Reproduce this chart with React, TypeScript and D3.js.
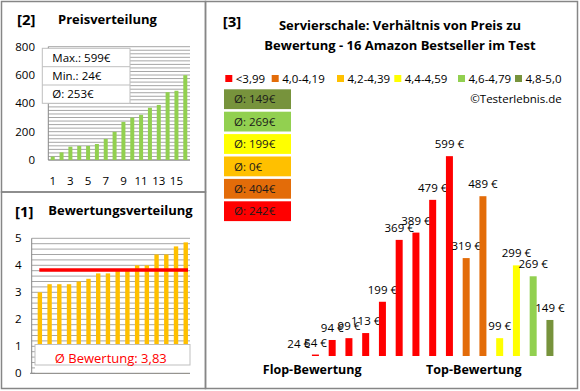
import React from 'react';
import * as d3 from 'd3';

// Produkte in Reihenfolge der Bewertung (Flop -> Top)
const prices = [24, 54, 94, 99, 113, 199, 369, 389, 479, 599, 319, 489, 99, 299, 269, 149];
const ratings = [3.0, 3.3, 3.3, 3.3, 3.4, 3.5, 3.7, 3.7, 3.85, 3.85, 4.0, 4.0, 4.4, 4.4, 4.7, 4.85];

const ratingClasses = ['<3,99', '4,0-4,19', '4,2-4,39', '4,4-4,59', '4,6-4,79', '4,8-5,0'];
const classColors = ['#FF0000', '#E36C09', '#FFC000', '#FFFF00', '#92D050', '#77933C'];
const classBreaks = [4.0, 4.2, 4.4, 4.6, 4.8];

const priceTicks = [0, 200, 400, 600, 800];
const ratingTicks = [0, 1, 2, 3, 4, 5];

const FONT = "'Open Sans', sans-serif";
const BORDER = '#868686';
const GRID = '#a6a6a6';

const App: React.FC = () => {
    const sortedPrices = [...prices].sort((a, b) => a - b);
    const maxP = d3.max(prices) as number;
    const minP = d3.min(prices) as number;
    const avgP = Math.round(d3.mean(prices) as number);
    const avgR = d3.mean(ratings) as number;

    const classOf = d3.scaleThreshold<number, number>().domain(classBreaks).range([0, 1, 2, 3, 4, 5]);
    const classAvg = ratingClasses.map((_, ci) => {
        const v = prices.filter((_, i) => classOf(ratings[i]) === ci);
        return v.length ? Math.round(d3.mean(v) as number) : 0;
    });

    // [2] Preisverteilung
    const x2 = d3.scaleBand<number>().domain(d3.range(16)).range([48.3, 189.7]);
    const y2 = d3.scaleLinear().domain([0, 800]).range([160, 46.7]);
    const grid2 = d3.range(0, 801, 25);

    // [1] Bewertungsverteilung
    const x1 = d3.scaleBand<number>().domain(d3.range(16)).range([35, 190.6]);
    const y1 = d3.scaleLinear().domain([0, 5]).range([373.3, 238.3]);
    const grid1 = d3.range(0, 5.01, 0.2);

    // [3] Preis zu Bewertung
    const x3 = d3.scaleBand<number>().domain(d3.range(16)).range([290.3, 558.3]);
    const y3 = d3.scaleLinear().domain([50, 650]).range([356, 137.6]).clamp(true);

    const legendX = [225.3, 271.7, 337, 394.3, 458, 515];
    const boxOrder = [5, 4, 3, 2, 1, 0];

    return (
        <svg width={580} height={391} style={{ position: 'absolute', left: 0, top: 0, fontFamily: FONT }}>
            <rect x={0} y={0} width={580} height={391} fill="#fff" />

            {/* Rahmen */}
            <rect x={1.5} y={1.5} width={204} height={190.5} fill="none" stroke={BORDER} strokeWidth={1.5} />
            <rect x={1.5} y={192} width={204} height={196.5} fill="none" stroke={BORDER} strokeWidth={1.5} />
            <rect x={205.5} y={1.5} width={372} height={387} fill="none" stroke={BORDER} strokeWidth={1.5} />

            {/* ---------- [2] ---------- */}
            <text x={17} y={25} fontSize={15} fontWeight="bold">[2]</text>
            <text x={58} y={24} fontSize={13} fontWeight="bold">Preisverteilung</text>
            {grid2.map(g => (
                <line key={g} x1={48.3} x2={190} y1={y2(g)} y2={y2(g)} stroke={GRID} strokeWidth={1} />
            ))}
            <line x1={48.3} x2={48.3} y1={46.7} y2={160} stroke={BORDER} />
            <line x1={48.3} x2={190} y1={160} y2={160} stroke={BORDER} />
            {priceTicks.map(t => (
                <text key={t} x={35} y={y2(t) + 4} fontSize={11.5} textAnchor="end">{t}</text>
            ))}
            {sortedPrices.map((p, i) => (
                <rect key={i} x={x2(i)! + x2.bandwidth() / 2 - 2} y={y2(p)} width={4} height={160 - y2(p)} fill="#92D050" />
            ))}
            {d3.range(0, 16, 2).map(i => (
                <text key={i} x={x2(i)! + x2.bandwidth() / 2} y={185} fontSize={11.5} textAnchor="middle">{i + 1}</text>
            ))}
            <g>
                <rect x={42.3} y={48.3} width={87.7} height={55} fill="#fff" stroke="#bfbfbf" />
                <line x1={42.3} x2={130} y1={66.7} y2={66.7} stroke="#bfbfbf" />
                <line x1={42.3} x2={130} y1={85} y2={85} stroke="#bfbfbf" />
                <text x={52.3} y={61.5} fontSize={11.5}>{`Max.: ${maxP}€`}</text>
                <text x={52.3} y={80} fontSize={11.5}>{`Min.: ${minP}€`}</text>
                <text x={52.3} y={98.3} fontSize={11.5}>{`Ø: ${avgP}€`}</text>
            </g>

            {/* ---------- [1] ---------- */}
            <text x={15} y={216.5} fontSize={15} fontWeight="bold">[1]</text>
            <text x={48.3} y={215} fontSize={13} fontWeight="bold">Bewertungsverteilung</text>
            {grid1.map(g => (
                <line key={g} x1={31.7} x2={190} y1={y1(g)} y2={y1(g)} stroke={GRID} strokeWidth={1} />
            ))}
            <line x1={31.7} x2={31.7} y1={238.3} y2={373.3} stroke={BORDER} />
            {ratingTicks.map(t => (
                <text key={t} x={21.5} y={y1(t) + 4} fontSize={11.5} textAnchor="end">{t}</text>
            ))}
            {ratings.map((r, i) => (
                <rect key={i} x={x1(i)! + x1.bandwidth() / 2 - 2.2} y={y1(r)} width={4.4} height={373.3 - y1(r)} fill="#FFC000" />
            ))}
            <line x1={39.3} x2={188} y1={y1(avgR)} y2={y1(avgR)} stroke="#FF0000" strokeWidth={3.5} />
            <rect x={35} y={344.5} width={155} height={28.8} fill="#fff" />
            <rect x={35} y={344.5} width={155} height={20.5} fill="#fff" stroke="#bfbfbf" />
            <line x1={30} x2={190} y1={373.3} y2={373.3} stroke={BORDER} />
            <text x={110.8} y={362.5} fontSize={13} fill="#FF0000" textAnchor="middle">
                {`Ø Bewertung: ${avgR.toFixed(2).replace('.', ',')}`}
            </text>

            {/* ---------- [3] ---------- */}
            <text x={222.7} y={26.7} fontSize={15} fontWeight="bold">[3]</text>
            <text x={400} y={30} fontSize={13} fontWeight="bold" textAnchor="middle">Servierschale: Verhältnis von Preis zu</text>
            <text x={400} y={50} fontSize={13} fontWeight="bold" textAnchor="middle">Bewertung - 16 Amazon Bestseller im Test</text>

            {ratingClasses.map((c, i) => (
                <g key={c}>
                    <rect x={legendX[i]} y={75} width={7} height={7} fill={classColors[i]} />
                    <text x={legendX[i] + 10.5} y={82.5} fontSize={11.5}>{c}</text>
                </g>
            ))}
            <text x={561.7} y={102.5} fontSize={11.5} textAnchor="end">©Testerlebnis.de</text>

            {boxOrder.map((ci, k) => (
                <g key={ci}>
                    <rect x={224} y={89.3 + k * 22.4} width={67} height={19.8} fill={classColors[ci]} />
                    <text x={234} y={103.3 + k * 22.4} fontSize={11.5} fill="#1a1a1a">{`Ø: ${classAvg[ci]}€`}</text>
                </g>
            ))}

            {prices.map((p, i) => {
                const cx = x3(i)! + x3.bandwidth() / 2;
                const top = y3(p);
                return (
                    <g key={i}>
                        <rect x={cx - 3.5} y={top} width={7} height={356 - top} fill={classColors[classOf(ratings[i])]} />
                        <text x={cx} y={top - 8} fontSize={11.5} textAnchor="middle">{`${p} €`}</text>
                    </g>
                );
            })}
            <text x={312.2} y={374} fontSize={12.5} fontWeight="bold" textAnchor="middle">Flop-Bewertung</text>
            <text x={473.8} y={374} fontSize={12.5} fontWeight="bold" textAnchor="middle">Top-Bewertung</text>
        </svg>
    );
};

export default App;
